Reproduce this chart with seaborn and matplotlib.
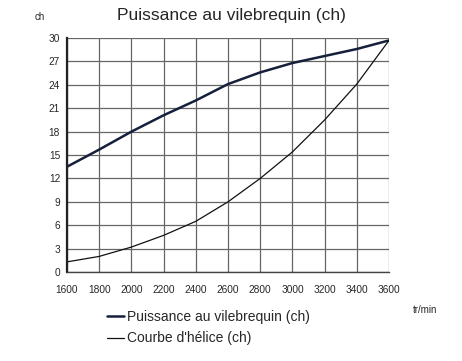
import numpy as np
import pandas as pd
import matplotlib
matplotlib.use("Agg")
import matplotlib.pyplot as plt
import seaborn as sns
from matplotlib.lines import Line2D

rpm = [1600, 1800, 2000, 2200, 2400, 2600, 2800, 3000, 3200, 3400, 3600]
puissance = [13.5, 15.7, 18.0, 20.1, 22.0, 24.1, 25.6, 26.8, 27.7, 28.6, 29.7]
helice = [1.3, 2.0, 3.2, 4.7, 6.5, 9.0, 12.0, 15.4, 19.5, 24.1, 29.7]
noms = ["Puissance au vilebrequin (ch)", "Courbe d'hélice (ch)"]

df = pd.DataFrame({
    "rpm": rpm * 2,
    "ch": puissance + helice,
    "serie": [noms[0]] * len(rpm) + [noms[1]] * len(rpm),
})

sns.set_style("white")
plt.rcParams['font.family'] = ['Liberation Sans', 'DejaVu Sans']

fig = plt.figure(figsize=(4.62, 3.61), dpi=100)
ax = fig.add_axes([0.145, 0.2465, 0.697, 0.648])

sns.lineplot(data=df, x="rpm", y="ch", hue="serie", size="serie",
             palette=["#16203a", "#111111"], sizes=[1.8, 0.9],
             ax=ax, legend=False)

ax.set_xlim(1600, 3600)
ax.set_ylim(0, 30)
ax.set_xticks(range(1600, 3601, 200))
ax.set_yticks(range(0, 31, 3))
ax.grid(True, color="#666666", linewidth=0.9)
ax.tick_params(axis="both", labelsize=7.3, length=3, color="#333333", pad=6)
ax.tick_params(axis="y", length=0, pad=5)
for s in ["top", "right"]:
    ax.spines[s].set_visible(False)
ax.spines["left"].set_linewidth(1.6)
ax.spines["left"].set_color("#222222")
ax.spines["bottom"].set_linewidth(1.0)
ax.spines["bottom"].set_color("#444444")
ax.set_xlabel("")
ax.set_ylabel("")

fig.text(0.5, 0.958, "Puissance au vilebrequin (ch)", ha="center", va="center", fontsize=12.5)
fig.text(0.087, 0.952, "ch", ha="center", va="center", fontsize=7)
fig.text(0.92, 0.14, "tr/min", ha="center", va="center", fontsize=7)

handles = [Line2D([], [], color="#16203a", lw=1.8), Line2D([], [], color="#111111", lw=0.9)]
fig.legend(handles, noms, loc="upper left", bbox_to_anchor=(0.232, 0.142),
           frameon=False, fontsize=10, handlelength=1.2, handletextpad=0.2,
           labelspacing=0.55, borderaxespad=0, borderpad=0)

fig.savefig("out.png", dpi=100)
